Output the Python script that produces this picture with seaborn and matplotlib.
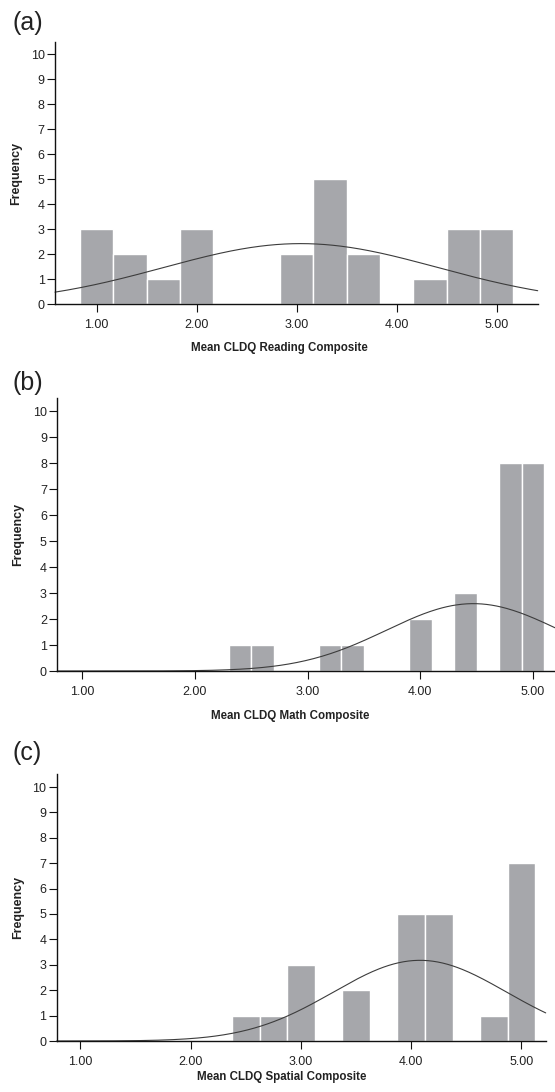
import numpy as np
import pandas as pd
import matplotlib.pyplot as plt
import seaborn as sns

# ── Data ───────────────────────────────────────────────
READ_START, READ_WIDTH = 0.8333, 1 / 3
READ_COUNTS = [3, 2, 1, 3, 0, 0, 2, 5, 2, 0, 1, 3, 3]
READ_MEAN, READ_SD = 3.04, 1.37

MATH_START, MATH_WIDTH = 2.3, 0.2
MATH_COUNTS = [1, 1, 0, 0, 1, 1, 0, 0, 2, 0, 3, 0, 8, 8]
MATH_MEAN, MATH_SD = 4.47, 0.77

SPAT_START, SPAT_WIDTH = 2.375, 0.25
SPAT_COUNTS = [1, 1, 3, 0, 2, 0, 5, 5, 0, 1, 7]
SPAT_MEAN, SPAT_SD = 4.08, 0.785

X_TICKS = [1, 2, 3, 4, 5]
Y_TICKS = list(range(0, 11))

# ── Style ──────────────────────────────────────────────
sns.set_style("ticks")
plt.rcParams["font.family"] = ["Liberation Sans", "DejaVu Sans"]
BAR_COLOR = "#a6a7ab"
CURVE_COLOR = "#3c3c3c"
TEXT_COLOR = "#222222"

W, H = 555, 1092
fig = plt.figure(figsize=(W / 100, H / 100), dpi=100)

# panel: (tag, label, start, width, counts, mean, sd, xlim,
#         rect px [left, right, y0, ytop], tag y px, xlabel centre px (x, y))
panels = [
    ("(a)", "Mean CLDQ Reading Composite", READ_START, READ_WIDTH, READ_COUNTS,
     READ_MEAN, READ_SD, (0.583, 5.41), (55, 537.7, 304.3, 41.7), 23, (279.5, 348)),
    ("(b)", "Mean CLDQ Math Composite", MATH_START, MATH_WIDTH, MATH_COUNTS,
     MATH_MEAN, MATH_SD, (0.778, 5.195), (57.3, 555, 671, 398), 383, (290, 716.5)),
    ("(c)", "Mean CLDQ Spatial Composite", SPAT_START, SPAT_WIDTH, SPAT_COUNTS,
     SPAT_MEAN, SPAT_SD, (0.786, 5.22), (56.7, 545.7, 1041, 774.3), 753, (281.7, 1077)),
]

for tag, label, start, width, counts, mean, sd, xlim, rect, tag_y, xl_pos in panels:
    left, right, y0, ytop = rect
    ax = fig.add_axes([left / W, 1 - y0 / H, (right - left) / W, (y0 - ytop) / H])

    nbins = len(counts)
    df = pd.DataFrame({"value": start + width * (np.arange(nbins) + 0.5),
                       "count": counts})
    sns.histplot(data=df, x="value", weights="count", bins=nbins,
                 binrange=(start, start + width * nbins), stat="count",
                 color=BAR_COLOR, edgecolor="white", linewidth=1.0,
                 alpha=1, ax=ax)

    # fitted normal curve (SPSS style)
    n = sum(counts)
    xs = np.linspace(xlim[0], xlim[1], 300)
    ys = n * width * np.exp(-0.5 * ((xs - mean) / sd) ** 2) / (sd * np.sqrt(2 * np.pi))
    ax.plot(xs, ys, color=CURVE_COLOR, linewidth=0.8, clip_on=False)

    ax.set_xlim(*xlim)
    ax.set_ylim(0, 10.5)
    ax.set_xticks(X_TICKS)
    ax.set_xticklabels([f"{t:.2f}" for t in X_TICKS])
    ax.set_yticks(Y_TICKS)
    ax.tick_params(axis="both", labelsize=9, length=5.5, width=0.8,
                   color="#111111", labelcolor=TEXT_COLOR)
    ax.tick_params(axis="y", pad=2)
    ax.tick_params(axis="x", pad=5)
    for s in ["left", "bottom"]:
        ax.spines[s].set_linewidth(1.0)
        ax.spines[s].set_color("#111111")
    sns.despine(ax=ax)

    ax.set_ylabel("Frequency", fontsize=9, fontweight="bold", color=TEXT_COLOR, labelpad=6)
    ax.set_xlabel("")
    fig.text(xl_pos[0] / W, 1 - xl_pos[1] / H, label, fontsize=8.3, fontweight="bold",
             color=TEXT_COLOR, ha="center", va="center")
    ax.set_facecolor("white")

    fig.text(12 / W, 1 - tag_y / H, tag, fontsize=18, va="center", ha="left", color=TEXT_COLOR)

fig.savefig("out.png", dpi=100, facecolor="white")
